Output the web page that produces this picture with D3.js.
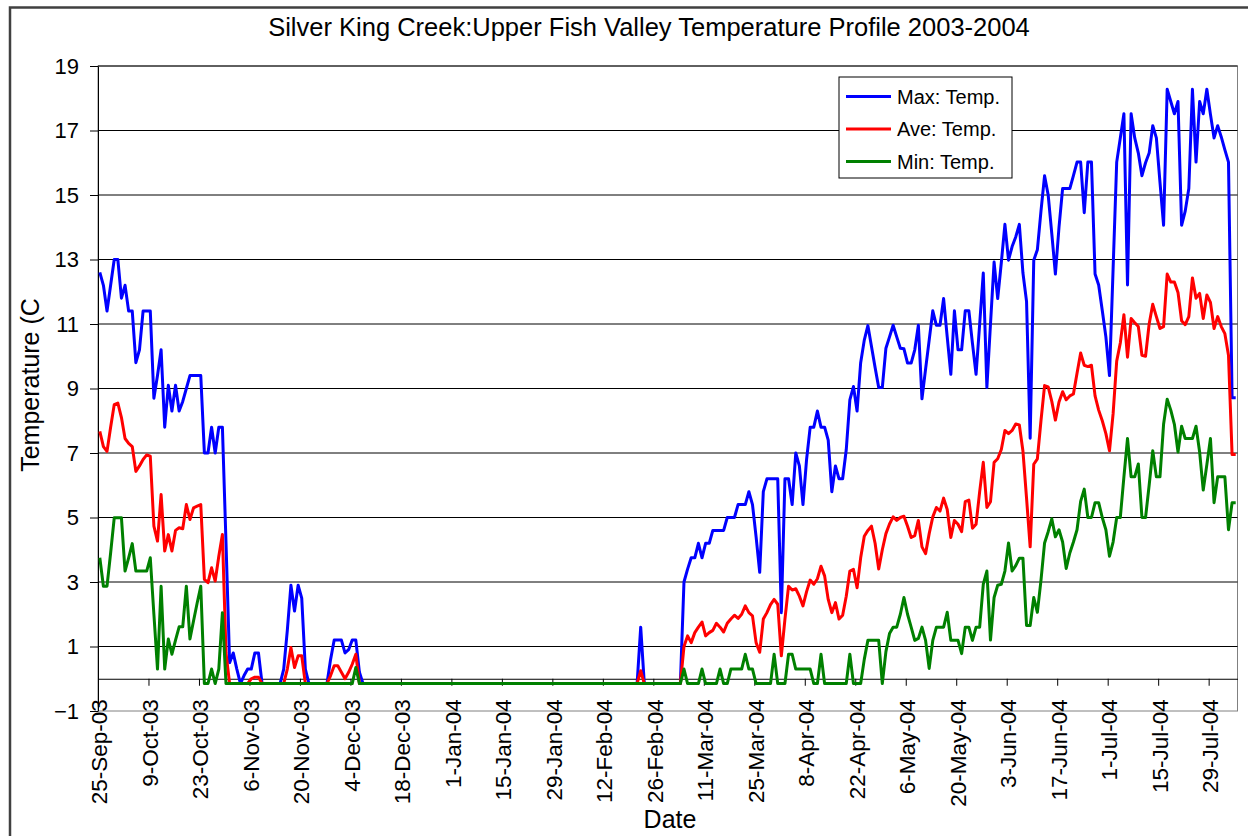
<!DOCTYPE html>
<html>
<head>
<meta charset="utf-8">
<script src="https://cdn.jsdelivr.net/npm/d3@7"></script>
<style>
  body { margin: 0; background: #fff; }
  svg { display: block; font-family: "Liberation Sans", Arial, sans-serif; }
</style>
</head>
<body>
<svg id="chart" width="1248" height="836"></svg>
<script>
const TITLE = "Silver King Creek:Upper Fish Valley Temperature Profile 2003-2004";
const Y_TITLE = "Temperature (C";
const X_TITLE = "Date";

// one label every 14 days, first one is the first day of the record
const tickLabels = ["25-Sep-03", "9-Oct-03", "23-Oct-03", "6-Nov-03", "20-Nov-03", "4-Dec-03",
  "18-Dec-03", "1-Jan-04", "15-Jan-04", "29-Jan-04", "12-Feb-04", "26-Feb-04", "11-Mar-04",
  "25-Mar-04", "8-Apr-04", "22-Apr-04", "6-May-04", "20-May-04", "3-Jun-04", "17-Jun-04",
  "1-Jul-04", "15-Jul-04", "29-Jul-04"];
const yTicks = [-1, 1, 3, 5, 7, 9, 11, 13, 15, 17, 19];

const seriesNames = ["Max: Temp.", "Ave: Temp.", "Min: Temp."];
const seriesColors = ["#0000ff", "#ff0000", "#008000"];

// daily values, 25-Sep-03 .. 5-Aug-04 (316 days)
const maxTemp = [
  12.6, 12.2, 11.4, 12.2, 13.0, 13.0, 11.8, 12.2, 11.4, 11.4,
  9.8, 10.2, 11.4, 11.4, 11.4, 8.7, 9.4, 10.2, 7.8, 9.1,
  8.3, 9.1, 8.3, 8.6, 9.0, 9.4, 9.4, 9.4, 9.4, 7.0,
  7.0, 7.8, 7.0, 7.8, 7.8, 4.2, 0.5, 0.8, 0.3, -0.15,
  0.1, 0.3, 0.3, 0.8, 0.8, -0.15, -0.15, -0.15, -0.15, -0.15,
  -0.15, 0.3, 1.5, 2.9, 2.1, 2.9, 2.5, 0.3, -0.15, -0.15,
  -0.15, -0.15, -0.15, -0.15, 0.6, 1.2, 1.2, 1.2, 0.8, 0.9,
  1.2, 1.2, 0.2, -0.15, -0.15, -0.15, -0.15, -0.15, -0.15, -0.15,
  -0.15, -0.15, -0.15, -0.15, -0.15, -0.15, -0.15, -0.15, -0.15, -0.15,
  -0.15, -0.15, -0.15, -0.15, -0.15, -0.15, -0.15, -0.15, -0.15, -0.15,
  -0.15, -0.15, -0.15, -0.15, -0.15, -0.15, -0.15, -0.15, -0.15, -0.15,
  -0.15, -0.15, -0.15, -0.15, -0.15, -0.15, -0.15, -0.15, -0.15, -0.15,
  -0.15, -0.15, -0.15, -0.15, -0.15, -0.15, -0.15, -0.15, -0.15, -0.15,
  -0.15, -0.15, -0.15, -0.15, -0.15, -0.15, -0.15, -0.15, -0.15, -0.15,
  -0.15, -0.15, -0.15, -0.15, -0.15, -0.15, -0.15, -0.15, -0.15, -0.15,
  1.6, -0.15, -0.15, -0.15, -0.15, -0.15, -0.15, -0.15, -0.15, -0.15,
  -0.15, -0.15, 3.0, 3.4, 3.75, 3.75, 4.2, 3.75, 4.2, 4.2,
  4.6, 4.6, 4.6, 4.6, 5.0, 5.0, 5.0, 5.4, 5.4, 5.4,
  5.8, 5.4, 4.4, 3.3, 5.8, 6.2, 6.2, 6.2, 6.2, 2.05,
  6.2, 6.2, 5.4, 7.0, 6.6, 5.4, 6.8, 7.8, 7.8, 8.3,
  7.8, 7.8, 7.4, 5.8, 6.6, 6.2, 6.2, 7.1, 8.65, 9.06,
  8.3, 9.8, 10.5, 10.95, 10.3, 9.65, 9.03, 9.03, 10.25, 10.6,
  10.96, 10.6, 10.25, 10.23, 9.79, 9.79, 10.2, 10.96, 8.68, 9.6,
  10.5, 11.41, 10.96, 10.96, 11.79, 10.6, 9.44, 11.41, 10.2, 10.2,
  11.41, 11.41, 10.4, 9.44, 11.0, 12.58, 9.03, 11.0, 12.92, 11.79,
  12.9, 14.09, 12.98, 13.4, 13.7, 14.09, 12.58, 11.7, 7.46, 12.98,
  13.3, 14.5, 15.6, 15.0, 13.8, 12.55, 14.0, 15.2, 15.2, 15.2,
  15.6, 16.02, 16.02, 14.45, 16.02, 16.02, 12.55, 12.21, 11.42, 10.6,
  9.4, 12.7, 16.02, 16.77, 17.52, 12.21, 17.52, 16.77, 16.3, 15.6,
  16.0, 16.3, 17.15, 16.77, 15.4, 14.06, 18.28, 17.9, 17.52, 17.9,
  14.06, 14.5, 15.2, 18.28, 16.02, 17.9, 17.52, 18.28, 17.5, 16.77,
  17.15, 16.8, 16.4, 16.02, 8.71, 8.71
];

const aveTemp = [
  7.67, 7.2, 7.05, 7.8, 8.5, 8.55, 8.1, 7.45, 7.3, 7.2,
  6.43, 6.6, 6.8, 6.94, 6.9, 4.73, 4.27, 5.71, 3.96, 4.47,
  3.96, 4.6, 4.68, 4.65, 5.4, 4.94, 5.3, 5.35, 5.4, 3.08,
  2.98, 3.44, 3.03, 3.8, 4.47, 0.8, -0.15, -0.15, -0.15, -0.15,
  -0.15, -0.15, 0.0, 0.05, 0.05, -0.15, -0.15, -0.15, -0.15, -0.15,
  -0.15, -0.15, 0.3, 0.97, 0.35, 0.71, 0.71, -0.15, -0.15, -0.15,
  -0.15, -0.15, -0.15, -0.15, 0.1, 0.4, 0.4, 0.2, 0.0, 0.2,
  0.45, 0.76, -0.15, -0.15, -0.15, -0.15, -0.15, -0.15, -0.15, -0.15,
  -0.15, -0.15, -0.15, -0.15, -0.15, -0.15, -0.15, -0.15, -0.15, -0.15,
  -0.15, -0.15, -0.15, -0.15, -0.15, -0.15, -0.15, -0.15, -0.15, -0.15,
  -0.15, -0.15, -0.15, -0.15, -0.15, -0.15, -0.15, -0.15, -0.15, -0.15,
  -0.15, -0.15, -0.15, -0.15, -0.15, -0.15, -0.15, -0.15, -0.15, -0.15,
  -0.15, -0.15, -0.15, -0.15, -0.15, -0.15, -0.15, -0.15, -0.15, -0.15,
  -0.15, -0.15, -0.15, -0.15, -0.15, -0.15, -0.15, -0.15, -0.15, -0.15,
  -0.15, -0.15, -0.15, -0.15, -0.15, -0.15, -0.15, -0.15, -0.15, -0.15,
  0.25, -0.15, -0.15, -0.15, -0.15, -0.15, -0.15, -0.15, -0.15, -0.15,
  -0.15, -0.15, 1.0, 1.33, 1.12, 1.43, 1.6, 1.76, 1.33, 1.43,
  1.5, 1.72, 1.6, 1.45, 1.72, 1.85, 1.97, 1.87, 2.0, 2.26,
  2.05, 1.95, 1.12, 0.82, 1.85, 2.05, 2.3, 2.46, 2.31, 0.71,
  1.85, 2.87, 2.75, 2.79, 2.56, 2.26, 2.7, 3.06, 2.93, 3.1,
  3.49, 3.19, 2.46, 2.05, 2.36, 1.85, 1.97, 2.56, 3.34, 3.39,
  2.82, 3.75, 4.42, 4.6, 4.73, 4.2, 3.4, 4.0, 4.5, 4.8,
  5.02, 4.91, 5.0, 5.04, 4.73, 4.38, 4.44, 4.91, 4.09, 3.88,
  4.5, 5.02, 5.31, 5.2, 5.6, 5.25, 4.38, 4.91, 4.79, 4.56,
  5.49, 5.54, 4.67, 4.79, 5.8, 6.71, 5.31, 5.49, 6.71, 6.82,
  7.11, 7.7, 7.6, 7.7, 7.9, 7.87, 7.06, 5.6, 4.09, 6.65,
  6.82, 8.0, 9.09, 9.05, 8.6, 8.02, 8.58, 8.9, 8.65, 8.77,
  8.83, 9.47, 10.1, 9.72, 9.68, 9.72, 8.77, 8.33, 8.0, 7.6,
  7.07, 8.21, 9.85, 10.41, 11.29, 9.97, 11.17, 11.04, 10.92, 10.03,
  10.0, 11.0, 11.61, 11.23, 10.86, 10.92, 12.55, 12.3, 12.3, 11.98,
  11.1, 10.98, 11.23, 12.43, 11.8, 11.95, 11.17, 11.9, 11.67, 10.86,
  11.23, 10.92, 10.7, 10.03, 6.95, 6.95
];

const minTemp = [
  3.75, 2.87, 2.87, 3.9, 4.99, 4.99, 4.99, 3.34, 3.75, 4.19,
  3.34, 3.34, 3.34, 3.34, 3.75, 2.0, 0.3, 2.87, 0.3, 1.23,
  0.76, 1.2, 1.61, 1.61, 2.87, 1.23, 1.8, 2.35, 2.87, -0.15,
  -0.15, 0.3, -0.15, 0.3, 2.05, -0.15, -0.15, -0.15, -0.15, -0.15,
  -0.15, -0.15, -0.15, -0.15, -0.15, -0.15, -0.15, -0.15, -0.15, -0.15,
  -0.15, -0.15, -0.15, -0.15, -0.15, -0.15, -0.15, -0.15, -0.15, -0.15,
  -0.15, -0.15, -0.15, -0.15, -0.15, -0.15, -0.15, -0.15, -0.15, -0.15,
  -0.15, 0.35, -0.15, -0.15, -0.15, -0.15, -0.15, -0.15, -0.15, -0.15,
  -0.15, -0.15, -0.15, -0.15, -0.15, -0.15, -0.15, -0.15, -0.15, -0.15,
  -0.15, -0.15, -0.15, -0.15, -0.15, -0.15, -0.15, -0.15, -0.15, -0.15,
  -0.15, -0.15, -0.15, -0.15, -0.15, -0.15, -0.15, -0.15, -0.15, -0.15,
  -0.15, -0.15, -0.15, -0.15, -0.15, -0.15, -0.15, -0.15, -0.15, -0.15,
  -0.15, -0.15, -0.15, -0.15, -0.15, -0.15, -0.15, -0.15, -0.15, -0.15,
  -0.15, -0.15, -0.15, -0.15, -0.15, -0.15, -0.15, -0.15, -0.15, -0.15,
  -0.15, -0.15, -0.15, -0.15, -0.15, -0.15, -0.15, -0.15, -0.15, -0.15,
  -0.15, -0.15, -0.15, -0.15, -0.15, -0.15, -0.15, -0.15, -0.15, -0.15,
  -0.15, -0.15, 0.3, -0.15, -0.15, -0.15, -0.15, 0.3, -0.15, -0.15,
  -0.15, -0.15, 0.3, -0.15, -0.15, 0.3, 0.3, 0.3, 0.3, 0.76,
  0.3, 0.3, -0.15, -0.15, -0.15, -0.15, -0.15, 0.76, -0.15, -0.15,
  -0.15, 0.76, 0.76, 0.3, 0.3, 0.3, 0.3, 0.3, -0.15, -0.15,
  0.76, -0.15, -0.15, -0.15, -0.15, -0.15, -0.15, -0.15, 0.76, -0.15,
  -0.15, -0.15, 0.6, 1.19, 1.19, 1.19, 1.19, -0.15, 0.84, 1.4,
  1.6, 1.6, 2.0, 2.52, 2.0, 1.6, 1.19, 1.25, 1.6, 1.19,
  0.32, 1.19, 1.6, 1.6, 1.6, 2.06, 1.19, 1.19, 1.19, 0.78,
  1.6, 1.6, 1.19, 1.6, 1.6, 2.93, 3.34, 1.2, 2.52, 2.9,
  2.93, 3.34, 4.21, 3.34, 3.51, 3.74, 3.74, 1.65, 1.65, 2.52,
  2.06, 3.05, 4.21, 4.56, 4.96, 4.4, 4.62, 4.24, 3.42, 3.9,
  4.24, 4.62, 5.5, 5.88, 5.0, 5.0, 5.46, 5.46, 5.0, 4.62,
  3.8, 4.24, 5.0, 5.0, 6.26, 7.45, 6.26, 6.26, 6.66, 5.0,
  5.0, 6.0, 7.07, 6.26, 6.26, 7.89, 8.67, 8.33, 7.89, 7.03,
  7.83, 7.45, 7.45, 7.45, 7.83, 7.03, 5.85, 6.64, 7.45, 5.46,
  6.26, 6.26, 6.26, 4.62, 5.46, 5.46
];

const DAYS = 316;
const TICK_STEP = 14;

var width = 1248, height = 836;
var plot = {left: 98, right: 1237.5, top: 66, bottom: 711};

var x = d3.scaleLinear().domain([0, DAYS]).range([plot.left, plot.right]);
var y = d3.scaleLinear().domain([-1, 19]).range([plot.bottom, plot.top]);

var series = [maxTemp, aveTemp, minTemp].map(function(values, i) {
  return {name: seriesNames[i], color: seriesColors[i], values: values};
});

var svg = d3.select("#chart");

svg.append("rect")
  .attr("width", width).attr("height", height)
  .attr("fill", "#fff");

// chart area border (right and bottom edges fall outside the picture)
svg.append("rect")
  .attr("x", 10).attr("y", 7.5)
  .attr("width", 1300).attr("height", 900)
  .attr("fill", "none")
  .attr("stroke", "#404040")
  .attr("stroke-width", 2.5);

// plot area border
svg.append("rect")
  .attr("x", plot.left).attr("y", plot.top)
  .attr("width", plot.right - plot.left)
  .attr("height", plot.bottom - plot.top)
  .attr("fill", "none")
  .attr("stroke", "#808080")
  .attr("stroke-width", 1);

// horizontal gridlines
svg.append("g")
  .selectAll("line")
  .data(yTicks.filter(function(d) { return d > -1; }))
  .enter().append("line")
  .attr("x1", plot.left).attr("x2", plot.right)
  .attr("y1", function(d) { return y(d); })
  .attr("y2", function(d) { return y(d); })
  .attr("stroke", "#000")
  .attr("stroke-width", 1);

// y axis
var yAxis = svg.append("g")
  .attr("transform", "translate(" + plot.left + ",0)")
  .call(d3.axisLeft(y).tickValues(yTicks).tickSize(8).tickSizeOuter(0).tickPadding(11));
yAxis.selectAll("text")
  .style("font-size", "22px")
  .style("font-family", "Liberation Sans, Arial, sans-serif")
  .attr("fill", "#000");
yAxis.selectAll("line, path").attr("stroke", "#000");

// x axis sits at 0 degrees
var xAxis = svg.append("g")
  .attr("transform", "translate(0," + y(0) + ")")
  .call(d3.axisBottom(x)
    .tickValues(d3.range(0, DAYS, TICK_STEP))
    .tickSize(7)
    .tickSizeOuter(0)
    .tickFormat(function(d, i) { return tickLabels[i]; }));
xAxis.selectAll("line, path").attr("stroke", "#000");
xAxis.selectAll("text")
  .style("font-size", "22.5px")
  .style("font-family", "Liberation Sans, Arial, sans-serif")
  .attr("fill", "#000")
  .style("text-anchor", "end")
  .attr("x", -20.5)
  .attr("y", 1)
  .attr("dy", "0.35em")
  .attr("transform", "rotate(-90)");

// data lines, drawn in series order so Min ends up on top
var line = d3.line()
  .x(function(d, i) { return x(i + 0.5); })
  .y(function(d) { return y(d); });

svg.append("g")
  .selectAll("path")
  .data(series)
  .enter().append("path")
  .attr("d", function(s) { return line(s.values); })
  .attr("fill", "none")
  .attr("stroke", function(s) { return s.color; })
  .attr("stroke-width", 3)
  .attr("stroke-linejoin", "round");

// titles
svg.append("text")
  .attr("x", 649).attr("y", 36)
  .attr("text-anchor", "middle")
  .style("font-size", "25.5px")
  .text(TITLE);

svg.append("text")
  .attr("transform", "translate(39,385) rotate(-90)")
  .attr("text-anchor", "middle")
  .style("font-size", "25px")
  .text(Y_TITLE);

svg.append("text")
  .attr("x", 670).attr("y", 828)
  .attr("text-anchor", "middle")
  .style("font-size", "25px")
  .text(X_TITLE);

// legend
var legend = svg.append("g").attr("transform", "translate(839,77)");
legend.append("rect")
  .attr("width", 173).attr("height", 101)
  .attr("fill", "#fff")
  .attr("stroke", "#000")
  .attr("stroke-width", 1);

var item = legend.selectAll(".legend")
  .data(series)
  .enter().append("g")
  .attr("class", "legend")
  .attr("transform", function(d, i) { return "translate(0," + (19.5 + i * 32.5) + ")"; });

item.append("line")
  .attr("x1", 7).attr("x2", 52)
  .attr("stroke", function(d) { return d.color; })
  .attr("stroke-width", 3);

item.append("text")
  .attr("x", 58)
  .attr("dy", "0.35em")
  .style("font-size", "20px")
  .text(function(d) { return d.name; });
</script>
</body>
</html>
